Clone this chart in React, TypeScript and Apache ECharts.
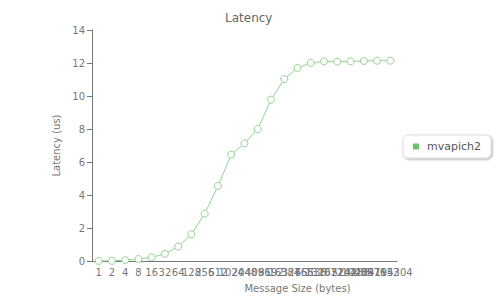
import React, { useEffect, useRef } from "react";
import * as echarts from "echarts";

const categories = ["1","2","4","8","16","32","64","128","256","512","1024","2048","4096","8192","16384","32768","65536","131072","262144","524288","1048576","2097152","4194304"];
const latency = [0.0, 0.01, 0.05, 0.12, 0.22, 0.44, 0.87, 1.62, 2.87, 4.55, 6.44, 7.13, 8.0, 9.78, 11.03, 11.7, 12.0, 12.1, 12.08, 12.1, 12.12, 12.14, 12.14];
const yTicks = [0, 14, 2];

export default function App() {
  const ref = useRef<HTMLDivElement>(null);
  useEffect(() => {
    document.body.style.margin = "0";
    const chart = echarts.init(ref.current!, null, { renderer: "svg" });
    const font = "DejaVu Sans";
    chart.setOption({
      animation: false,
      title: {
        text: "Latency",
        left: 220,
        top: 7,
        textStyle: { fontFamily: font, fontSize: 12, fontWeight: "normal", color: "#666" },
      },
      legend: {
        orient: "vertical",
        right: 9,
        top: 135,
        data: [{ name: "mvapich2", icon: "rect" }],
        itemWidth: 6,
        itemHeight: 6,
        itemGap: 6,
        padding: [6, 10, 6, 10],
        borderColor: "#ddd",
        borderWidth: 1,
        borderRadius: 5,
        backgroundColor: "#fff",
        shadowColor: "rgba(0,0,0,0.35)",
        shadowBlur: 2,
        shadowOffsetX: 1,
        shadowOffsetY: 1,
        itemStyle: { color: "#6ac46a", borderWidth: 0 },
        textStyle: { fontFamily: font, fontSize: 11, color: "#555", padding: [0, 0, 0, 3] },
      },
      grid: { left: 92, right: 103, top: 30, bottom: 39 },
      xAxis: {
        type: "category",
        data: categories,
        boundaryGap: true,
        name: "Message Size (bytes)",
        nameLocation: "middle",
        nameGap: 22,
        nameTextStyle: { fontFamily: font, fontSize: 10, color: "#777", padding: [0, 0, 0, 106] },
        axisLine: { lineStyle: { color: "#777" } },
        axisTick: { alignWithLabel: true, length: 5, lineStyle: { color: "#777" } },
        axisLabel: { interval: 0, fontFamily: font, fontSize: 10, color: "#777", margin: 6, hideOverlap: false },
      },
      yAxis: {
        type: "value",
        min: yTicks[0],
        max: yTicks[1],
        interval: yTicks[2],
        name: "Latency (us)",
        nameLocation: "middle",
        nameGap: 30,
        nameTextStyle: { fontFamily: font, fontSize: 10, color: "#777" },
        axisLine: { show: true, lineStyle: { color: "#777" } },
        axisTick: { show: true, length: 5, lineStyle: { color: "#777" } },
        axisLabel: { fontFamily: font, fontSize: 10, color: "#777", margin: 7 },
        splitLine: { show: false },
      },
      series: [
        {
          name: "mvapich2",
          type: "line",
          data: latency,
          symbol: "circle",
          symbolSize: 7,
          showSymbol: true,
          showAllSymbol: true,
          color: "#6ac46a",
          lineStyle: { color: "#92d392", width: 1 },
          itemStyle: { color: "#fff", borderColor: "#92d392", borderWidth: 1 },
        },
      ],
    });
    return () => chart.dispose();
  }, []);
  return <div ref={ref} style={{ width: 500, height: 300 }} />;
}
